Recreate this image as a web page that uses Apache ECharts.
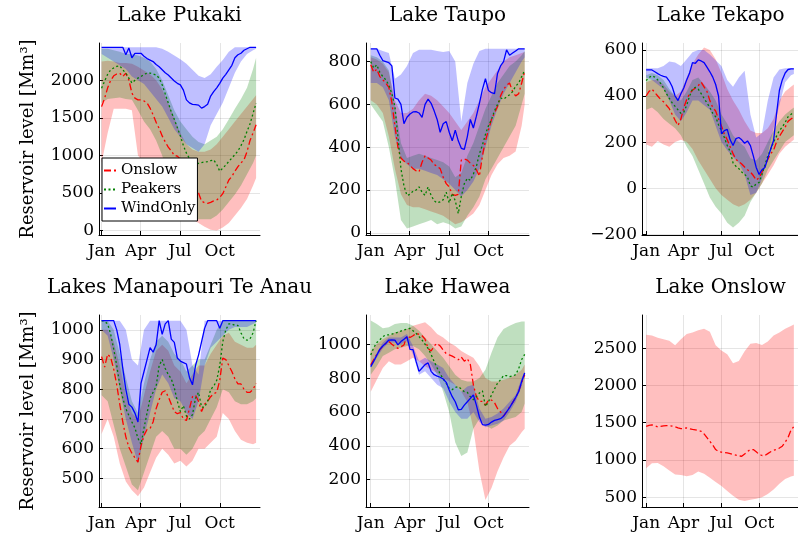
<!DOCTYPE html>
<html>
<head>
<meta charset="utf-8">
<script src="https://cdn.jsdelivr.net/npm/echarts@6/dist/echarts.min.js"></script>
<style>
    body, html {
        margin: 0;
        height: 100%;
        background: #fff;
    }
    #main {
        width: 798px;
        height: 540px;
    }
</style>
</head>
<body>
<div id="main"></div>
<script>
// weeks of the year (line points) and every second week (band points)
var weeks = [0,1,2,3,4,5,6,7,8,9,10,11,12,13,14,15,16,17,18,19,20,21,22,23,24,25,
             26,27,28,29,30,31,32,33,34,35,36,37,38,39,40,41,42,43,44,45,46,47,48,49,50,51];
var bandWeeks = [0,2,4,6,8,10,12,14,16,18,20,22,24,26,28,30,32,34,36,38,40,42,44,46,48,50,51];
var tickDays = [0, 90, 181, 273];
var tickNames = ['Jan', 'Apr', 'Jul', 'Oct'];
var scenarios = ['Onslow', 'Peakers', 'WindOnly'];

// Lake Pukaki
var pukakiOnslow = [1650,1760,1900,2000,2060,2085,2095,2050,2095,2006,1830,1762,1740,1740,1725,1700,1630,1540,1440,1360,
    1260,1180,1110,1060,1000,990,950,830,720,640,570,540,500,390,370,362,375,395,407,440,490,580,673,720,790,850,900,940,1050,1200,1300,1407];
var pukakiPeakers = [1895,1990,2080,2140,2165,2185,2193,2140,2095,2030,1965,2000,2030,2050,2080,2095,2095,2085,2070,2030,
    1940,1820,1700,1580,1480,1370,1260,1130,1030,960,900,880,895,905,912,918,930,940,880,790,830,873,920,965,1010,1060,1130,1210,1320,1420,1560,1695];
var pukakiWind = [2440,2440,2440,2440,2440,2440,2440,2440,2340,2430,2300,2360,2360,2360,2320,2290,2270,2250,2210,2180,
    2140,2100,2070,2030,1990,1960,1940,1870,1740,1700,1680,1675,1670,1630,1650,1680,1790,1850,1900,1960,2030,2080,2140,2200,2300,2340,2360,2400,2420,2440,2440,2440];
var pukakiOnslowLo = [900,1300,1620,1620,1620,1600,1000,900,850,750,650,550,450,350,250,150,100,50,10,0,40,100,200,300,420,600,700];
var pukakiOnslowHi = [2250,2260,2250,2230,2230,2220,2180,2130,2080,2000,1880,1700,1500,1300,1150,1080,1050,1050,1080,1150,1250,1350,1450,1550,1650,1750,1800];
var pukakiPeakersLo = [1700,1750,1760,1770,1750,1740,1600,1450,1350,1200,1000,750,500,300,220,180,150,150,150,200,280,380,480,600,750,900,1000];
var pukakiPeakersHi = [2420,2420,2400,2380,2350,2350,2330,2300,2250,2150,2000,1800,1600,1450,1350,1250,1180,1150,1200,1250,1350,1480,1620,1750,1900,2150,2300];
var pukakiWindLo = [2350,2300,2250,2200,2150,2050,2000,1950,1850,1750,1650,1500,1350,1250,1150,1100,1050,1150,1400,1550,1700,1900,2100,2250,2350,2400,2420];
var pukakiWindHi = [2440,2440,2440,2440,2440,2440,2440,2440,2440,2440,2420,2380,2330,2280,2220,2140,2060,2030,2080,2180,2270,2380,2440,2440,2440,2440,2440];

// Lake Taupo
var taupoOnslow = [785,750,765,730,715,700,680,610,500,400,350,335,330,315,300,290,285,330,360,350,
    340,320,310,300,260,230,215,180,175,180,340,345,340,325,315,295,265,360,430,480,530,560,590,640,670,690,700,660,640,650,700,755];
var taupoPeakers = [800,770,785,750,730,715,690,650,590,450,300,220,175,180,195,200,215,190,175,215,
    175,150,140,145,155,190,140,185,150,90,170,230,255,245,275,310,370,410,460,500,530,570,600,630,625,635,645,660,685,700,730,760];
var taupoWind = [860,860,860,830,805,800,795,780,630,625,600,510,540,555,565,566,560,540,600,625,
    605,570,530,470,510,520,470,430,480,430,395,390,450,530,490,545,605,670,720,665,655,650,745,780,800,855,830,840,850,860,860,860];
var taupoOnslowLo = [620,600,560,450,300,180,130,120,120,110,100,90,80,60,40,50,70,90,130,200,270,320,350,360,380,500,600];
var taupoOnslowHi = [820,810,790,750,620,560,560,580,620,650,640,620,590,560,520,480,520,560,620,680,720,760,800,820,830,840,845];
var taupoPeakersLo = [600,560,520,400,250,60,20,30,40,50,60,40,50,40,20,30,80,120,170,250,300,350,400,450,500,600,650];
var taupoPeakersHi = [830,820,800,760,600,420,350,360,370,360,350,340,330,310,260,280,360,420,500,580,640,700,740,780,800,830,850];
var taupoWindLo = [700,700,680,620,450,350,320,300,300,290,280,270,250,230,200,170,200,240,300,400,500,580,650,700,750,800,820];
var taupoWindHi = [860,860,850,840,720,740,780,840,855,855,855,850,845,850,800,520,700,790,850,860,860,860,860,860,860,860,860];

// Lake Tekapo
var tekapoOnslow = [400,420,430,415,400,385,375,360,345,320,295,272,300,350,385,410,425,435,445,460,
    440,420,380,350,335,300,270,235,210,180,150,125,115,105,92,80,70,55,35,45,70,95,125,150,165,200,225,245,265,290,300,310];
var tekapoPeakers = [467,480,488,482,470,455,435,410,390,370,355,340,325,330,360,400,430,438,430,410,
    390,370,350,325,310,275,250,220,185,160,110,95,85,70,60,48,10,5,19,25,60,100,140,170,200,225,250,265,285,310,320,330];
var tekapoWind = [513,513,513,505,497,490,485,482,465,440,400,380,410,435,470,500,545,542,557,552,
    545,525,505,482,450,400,236,250,255,210,185,215,220,210,195,205,185,140,90,60,80,90,130,170,207,320,424,470,500,515,518,518];
var tekapoOnslowLo = [190,180,205,190,180,200,210,200,170,120,80,40,0,-30,-50,-70,-80,-70,-50,-20,20,60,100,150,180,200,210];
var tekapoOnslowHi = [460,470,470,450,420,400,420,480,540,580,610,600,560,500,430,380,340,290,250,240,240,260,300,380,420,440,450];
var tekapoPeakersLo = [340,350,330,300,280,260,230,180,140,80,20,-40,-80,-110,-150,-170,-150,-120,-60,-20,20,80,120,160,200,220,230];
var tekapoPeakersHi = [490,500,490,470,430,400,380,420,470,480,450,420,380,320,280,230,200,180,130,120,150,200,250,290,320,340,350];
var tekapoWindLo = [480,470,450,430,380,320,290,330,380,380,360,340,270,200,165,135,110,60,-30,-20,40,150,260,360,460,490,495];
var tekapoWindHi = [520,520,520,530,550,545,530,560,590,600,600,580,555,530,470,440,480,510,320,220,240,380,480,515,520,520,520];

// Lakes Manapouri Te Anau
var manaOnslow = [910,875,918,907,868,815,750,690,640,605,585,570,555,610,645,665,668,690,735,765,
    790,795,775,750,725,718,722,700,695,735,775,780,760,725,750,760,775,785,790,830,905,900,880,860,835,818,818,800,790,790,800,820];
var manaPeakers = [1031,1028,1020,985,935,880,815,770,735,712,690,670,635,615,670,720,770,790,810,880,
    900,870,850,835,805,760,725,745,710,700,715,770,790,740,740,760,800,810,830,880,960,1000,1020,1020,1015,1015,990,970,965,970,990,1031];
var manaWind = [1031,1031,1031,1031,1031,1000,950,870,800,750,740,720,690,820,860,900,940,925,950,1031,
    985,1020,1031,969,958,905,895,890,885,840,815,880,915,960,1005,1031,1031,1031,1031,1005,1031,1031,1031,1031,1031,1031,1031,1031,1031,1031,1031,1031];
var manaOnslowLo = [650,700,640,550,490,460,440,470,520,570,600,580,550,560,540,560,600,600,620,640,720,700,660,630,620,615,620];
var manaOnslowHi = [1000,1000,960,880,780,720,700,780,860,930,950,930,880,860,820,850,880,880,920,950,980,990,960,950,940,940,950];
var manaPeakersLo = [780,760,680,600,540,480,460,520,580,640,660,640,600,600,580,600,640,660,700,740,800,790,760,750,750,760,770];
var manaPeakersHi = [1031,1031,1000,920,840,760,720,820,900,960,980,960,920,900,860,880,900,900,950,1000,1030,1031,1031,1031,1031,1031,1031];
var manaWindLo = [1000,980,900,800,700,620,550,640,720,800,850,820,770,760,720,700,760,880,940,960,980,1000,1010,1010,1010,1020,1025];
var manaWindHi = [1031,1031,1031,1031,1000,900,880,1000,1031,1031,1031,1031,1031,1031,1000,880,850,1031,1031,1031,1031,1031,1031,1031,1031,1031,1031];

// Lake Hawea
var haweaOnslow = [878,910,940,967,990,1005,1016,1000,986,976,985,996,1050,1040,1050,1065,1058,1050,1030,975,
    960,990,1005,990,965,945,937,930,920,908,925,900,915,880,760,690,662,662,640,670,670,655,620,600,575,600,630,655,685,720,775,820];
var haweaPeakers = [937,980,1010,1026,1045,1055,1055,1060,1065,1070,1078,1085,1090,1094,1080,1065,1045,1025,1000,975,
    940,898,860,825,795,770,740,732,745,750,735,720,715,690,672,690,712,725,632,660,700,735,770,790,815,815,809,812,820,855,910,940];
var haweaWind = [868,900,935,970,990,1006,1025,1026,1025,996,1016,1030,1045,970,968,900,840,860,880,890,
    840,820,812,805,795,775,730,690,660,613,615,640,660,680,700,640,570,525,522,526,540,550,555,560,575,600,625,655,685,720,780,830];
var haweaOnslowLo = [720,790,860,900,880,880,900,920,900,870,850,830,800,780,760,720,660,500,250,80,150,250,330,400,430,480,500];
var haweaOnslowHi = [960,1000,1030,1050,1070,1080,1090,1110,1120,1130,1100,1060,1040,1010,990,960,940,920,870,800,780,780,790,800,820,850,880];
var haweaPeakersLo = [820,870,930,950,970,980,990,990,970,930,880,820,720,600,420,340,360,500,560,520,500,520,550,560,570,600,650];
var haweaPeakersHi = [1140,1120,1095,1100,1120,1125,1125,1110,1080,1040,1000,960,920,870,820,790,780,780,800,850,950,1040,1090,1110,1125,1135,1135];
var haweaWindLo = [860,920,975,1010,1010,1000,1020,940,820,840,800,760,740,660,600,560,560,600,540,510,520,530,550,600,660,750,820];
var haweaWindHi = [880,950,1010,1040,1040,1040,1060,990,900,920,900,880,860,800,760,720,750,760,620,560,570,590,620,660,700,800,840];

// Lake Onslow
var onslowOnslow = [1450,1465,1470,1460,1445,1450,1458,1460,1460,1455,1445,1430,1420,1425,1430,1420,1410,1405,1395,1385,
    1350,1300,1250,1200,1140,1115,1105,1100,1095,1085,1075,1065,1055,1050,1080,1115,1140,1140,1110,1075,1060,1060,1085,1110,1130,1140,1160,1185,1240,1300,1400,1450];
var onslowOnslowLo = [890,955,960,915,860,804,800,782,800,845,815,760,705,650,585,520,465,450,465,480,500,545,603,680,745,780,790];
var onslowOnslowHi = [2680,2670,2640,2620,2600,2540,2620,2690,2710,2740,2760,2720,2540,2470,2420,2300,2330,2460,2560,2570,2545,2590,2670,2710,2760,2800,2820];

var lakes = [
    {title: 'Lake Pukaki', col: 0, row: 0, yMin: -60, yMax: 2497, yTicks: [0, 500, 1000, 1500, 2000],
     data: {Onslow: [pukakiOnslow, pukakiOnslowLo, pukakiOnslowHi], Peakers: [pukakiPeakers, pukakiPeakersLo, pukakiPeakersHi], WindOnly: [pukakiWind, pukakiWindLo, pukakiWindHi]}},
    {title: 'Lake Taupo', col: 1, row: 0, yMin: -10, yMax: 887, yTicks: [0, 200, 400, 600, 800],
     data: {Onslow: [taupoOnslow, taupoOnslowLo, taupoOnslowHi], Peakers: [taupoPeakers, taupoPeakersLo, taupoPeakersHi], WindOnly: [taupoWind, taupoWindLo, taupoWindHi]}},
    {title: 'Lake Tekapo', col: 2, row: 0, yMin: -203, yMax: 630, yTicks: [-200, 0, 200, 400, 600],
     data: {Onslow: [tekapoOnslow, tekapoOnslowLo, tekapoOnslowHi], Peakers: [tekapoPeakers, tekapoPeakersLo, tekapoPeakersHi], WindOnly: [tekapoWind, tekapoWindLo, tekapoWindHi]}},
    {title: 'Lakes Manapouri Te Anau', col: 0, row: 1, yMin: 404, yMax: 1050, yTicks: [500, 600, 700, 800, 900, 1000],
     data: {Onslow: [manaOnslow, manaOnslowLo, manaOnslowHi], Peakers: [manaPeakers, manaPeakersLo, manaPeakersHi], WindOnly: [manaWind, manaWindLo, manaWindHi]}},
    {title: 'Lake Hawea', col: 1, row: 1, yMin: 38, yMax: 1173, yTicks: [200, 400, 600, 800, 1000],
     data: {Onslow: [haweaOnslow, haweaOnslowLo, haweaOnslowHi], Peakers: [haweaPeakers, haweaPeakersLo, haweaPeakersHi], WindOnly: [haweaWind, haweaWindLo, haweaWindHi]}},
    {title: 'Lake Onslow', col: 2, row: 1, yMin: 369, yMax: 2946, yTicks: [500, 1000, 1500, 2000, 2500],
     data: {Onslow: [onslowOnslow, onslowOnslowLo, onslowOnslowHi]}}
];

var cols = [
    {left: 99, width: 161, xMin: -6, xMax: 366},
    {left: 366, width: 163, xMin: -11, xMax: 367},
    {left: 642, width: 163, xMin: -10, xMax: 367}
];
var rows = [
    {top: 43, height: 192, titleY: 6},
    {top: 315, height: 192, titleY: 278}
];
var styles = {
    Onslow: {color: '#ff0000', fill: 'rgba(255,0,0,0.25)', type: [7, 3, 2, 3]},
    Peakers: {color: '#008000', fill: 'rgba(0,128,0,0.25)', type: [2, 2.5]},
    WindOnly: {color: '#0000ff', fill: 'rgba(0,0,255,0.25)', type: 'solid'}
};
var font = 'DejaVu Serif';

// one filled polygon per band, built from the band arrays through the axes
function bandRender(lo, hi, fill) {
    return function (params, api) {
        if (params.dataIndex !== 0) return null;
        var upper = [], lower = [];
        for (var i = 0; i < bandWeeks.length; i++) {
            upper.push(api.coord([bandWeeks[i] * 7, hi[i]]));
            lower.push(api.coord([bandWeeks[i] * 7, lo[i]]));
        }
        return {
            type: 'polygon',
            shape: {points: upper.concat(lower.reverse())},
            style: {fill: fill},
            silent: true
        };
    };
}

var grids = [], xAxes = [], yAxes = [], series = [], texts = [];
lakes.forEach(function (lake, k) {
    var c = cols[lake.col], r = rows[lake.row];
    grids.push({left: c.left, top: r.top, width: c.width, height: r.height});
    texts.push({
        type: 'text', x: c.left + c.width / 2 - (lake.col === 2 ? 3 : 0), y: r.titleY,
        style: {text: lake.title, font: '20px "' + font + '"', fill: '#000', textAlign: 'center', textVerticalAlign: 'top'}
    });
    xAxes.push({
        type: 'value', gridIndex: k, min: c.xMin, max: c.xMax,
        axisLine: {onZero: false, lineStyle: {color: '#000', width: 1}},
        axisTick: {inside: true, length: 4, customValues: tickDays, lineStyle: {color: '#000'}},
        axisLabel: {customValues: tickDays, margin: 8, color: '#000', fontFamily: font, fontSize: 17,
            formatter: function (v) { return tickNames[tickDays.indexOf(v)]; }},
        splitLine: {show: true, lineStyle: {color: 'rgba(0,0,0,0.1)', width: 1}}
    });
    yAxes.push({
        type: 'value', gridIndex: k, min: lake.yMin, max: lake.yMax,
        name: lake.col === 0 ? 'Reservoir level [Mm\u00b3]' : '',
        nameLocation: 'middle', nameGap: 62,
        nameTextStyle: {fontFamily: font, fontSize: 18, color: '#000'},
        axisLine: {show: true, onZero: false, lineStyle: {color: '#000', width: 1}},
        axisTick: {show: true, inside: true, length: 4, customValues: lake.yTicks, lineStyle: {color: '#000'}},
        axisLabel: {customValues: lake.yTicks, margin: 5, color: '#000', fontFamily: font, fontSize: 17,
            formatter: function (v) { return String(v).replace('-', '\u2212'); }},
        splitLine: {show: true, lineStyle: {color: 'rgba(0,0,0,0.1)', width: 1}}
    });
    scenarios.forEach(function (s) {
        var d = lake.data[s];
        if (!d) return;
        var st = styles[s];
        series.push({
            type: 'custom', name: s + ' band', xAxisIndex: k, yAxisIndex: k, clip: true, silent: true,
            data: bandWeeks.map(function (w, i) { return [w * 7, d[1][i], d[2][i]]; }),
            encode: {x: 0, y: [1, 2]},
            renderItem: bandRender(d[1], d[2], st.fill)
        });
        series.push({
            type: 'line', name: s, xAxisIndex: k, yAxisIndex: k, clip: true, silent: true,
            symbol: 'none', showSymbol: false,
            data: weeks.map(function (w, i) { return [w * 7, d[0][i]]; }),
            lineStyle: {color: st.color, width: 1.3, type: st.type},
            itemStyle: {color: st.color}
        });
    });
});

var myChart = echarts.init(document.getElementById('main'));
var option = {
    animation: false,
    backgroundColor: '#fff',
    grid: grids,
    xAxis: xAxes,
    yAxis: yAxes,
    legend: {
        data: scenarios, left: 102, top: 158, orient: 'vertical',
        itemWidth: 12, itemHeight: 8, itemGap: 4, padding: [5, 2, 5, 1],
        borderColor: '#000', borderWidth: 1, borderRadius: 0, backgroundColor: '#fff',
        selectedMode: false,
        itemStyle: {opacity: 0},
        textStyle: {fontFamily: font, fontSize: 15, color: '#000'}
    },
    graphic: texts,
    series: series
};
myChart.setOption(option);
</script>
</body>
</html>
